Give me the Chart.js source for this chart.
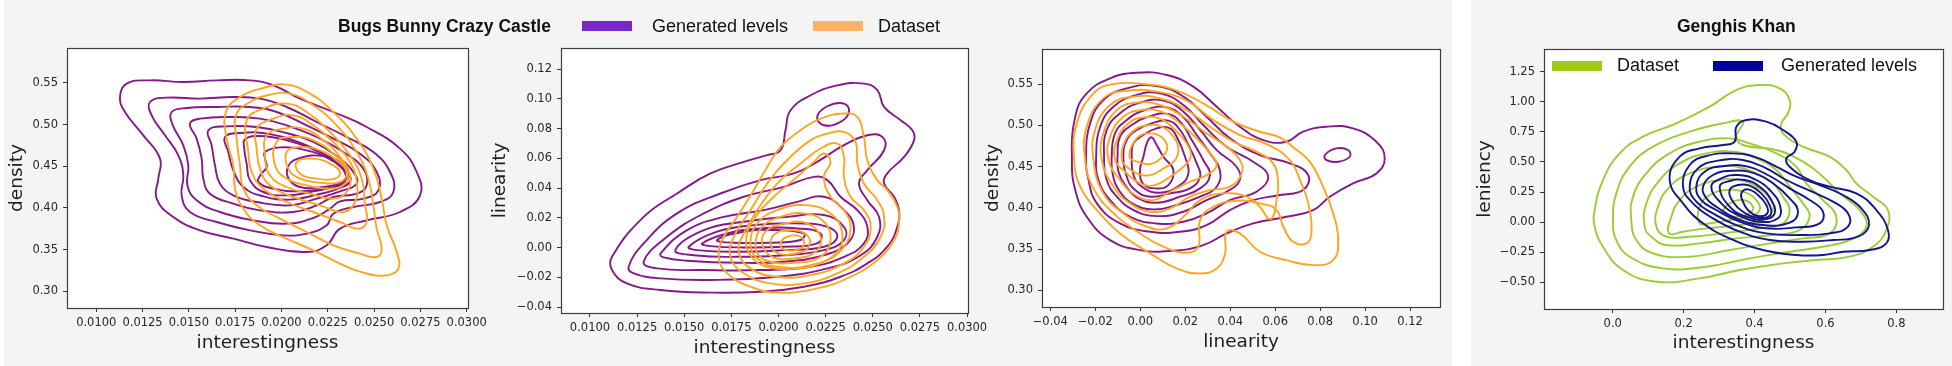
<!DOCTYPE html>
<html>
<head>
<meta charset="utf-8">
<script src="https://cdn.jsdelivr.net/npm/chart.js@4.4.0/dist/chart.umd.min.js"></script>
<style>
  body { margin: 0; width: 1952px; height: 366px; position: relative; background: #fff; overflow: hidden; }
  .bg { position: absolute; top: 0; height: 366px; background: #f4f4f4; }
  canvas { position: absolute; top: 0; }
  .txt { position: absolute; font-family: "Liberation Sans", Arial, sans-serif; font-size: 18px; line-height: 20px; color: #111; white-space: nowrap; }
  .ttl { font-weight: bold; font-size: 17.5px; }
  .sw { position: absolute; width: 50px; height: 10px; }
</style>
</head>
<body>
<div class="bg" style="left:4px;width:1448px"></div>
<div class="bg" style="left:1471px;width:481px"></div>

<canvas id="bugs1" width="500" height="366" style="left:0px"></canvas>
<canvas id="bugs2" width="510" height="366" style="left:485px"></canvas>
<canvas id="bugs3" width="485" height="366" style="left:975px"></canvas>
<canvas id="genghis" width="487" height="366" style="left:1465px"></canvas>

<div class="txt ttl" style="left:338px;top:16px">Bugs Bunny Crazy Castle</div>
<div class="sw" style="left:582px;top:21px;background:#7828c8"></div>
<div class="txt" style="left:652px;top:16px">Generated levels</div>
<div class="sw" style="left:813px;top:21px;background:#ffb266"></div>
<div class="txt" style="left:878px;top:16px">Dataset</div>

<div class="txt ttl" style="left:1677px;top:16px">Genghis Khan</div>
<div class="sw" style="left:1552px;top:61px;background:#9ccd14"></div>
<div class="txt" style="left:1617px;top:55px">Dataset</div>
<div class="sw" style="left:1713px;top:61px;background:#000096"></div>
<div class="txt" style="left:1781px;top:55px">Generated levels</div>

<script>
// tick values and labels
const interestTicks = [0.01, 0.0125, 0.015, 0.0175, 0.02, 0.0225, 0.025, 0.0275, 0.03];
const interestLabels = ["0.0100", "0.0125", "0.0150", "0.0175", "0.0200", "0.0225", "0.0250", "0.0275", "0.0300"];
const densityTicks = [0.30, 0.35, 0.40, 0.45, 0.50, 0.55];
const densityLabels = ["0.30", "0.35", "0.40", "0.45", "0.50", "0.55"];
const linearityTicks = [-0.04, -0.02, 0, 0.02, 0.04, 0.06, 0.08, 0.10, 0.12];
const linearityLabels = ["\u22120.04", "\u22120.02", "0.00", "0.02", "0.04", "0.06", "0.08", "0.10", "0.12"];
const khanInterestTicks = [0, 0.2, 0.4, 0.6, 0.8];
const khanInterestLabels = ["0.0", "0.2", "0.4", "0.6", "0.8"];
const leniencyTicks = [-0.5, -0.25, 0, 0.25, 0.5, 0.75, 1.0, 1.25];
const leniencyLabels = ["\u22120.50", "\u22120.25", "0.00", "0.25", "0.50", "0.75", "1.00", "1.25"];

// contour levels, each one a closed loop of x,y pairs
const bugsIntDenGenerated = [
  [0.01128,0.5332, 0.01164,0.5492, 0.0129,0.5532, 0.0147,0.5512, 0.0165,0.5532, 0.0183,0.5532, 0.01956,0.5472, 0.021,0.5312, 0.0228,0.5152, 0.0246,0.4972, 0.0264,0.4712, 0.0273,0.4432, 0.02748,0.4152, 0.0264,0.3952, 0.0246,0.3852, 0.02316,0.3752, 0.02244,0.3552, 0.02136,0.3472, 0.0192,0.3532, 0.0174,0.3632, 0.0156,0.3732, 0.01416,0.3892, 0.01326,0.4112, 0.01335,0.4352, 0.01344,0.4592, 0.01254,0.4872, 0.01155,0.5152],
  [0.0129,0.5272, 0.0138,0.5324, 0.0156,0.5312, 0.0174,0.5332, 0.01884,0.5312, 0.02028,0.5212, 0.0219,0.5032, 0.02352,0.4852, 0.02496,0.4672, 0.02586,0.4432, 0.02604,0.4192, 0.02532,0.4072, 0.02388,0.4012, 0.0228,0.3932, 0.02244,0.3792, 0.02136,0.3692, 0.0201,0.3672, 0.0183,0.3732, 0.0165,0.3832, 0.01506,0.3952, 0.01461,0.4152, 0.0147,0.4392, 0.01443,0.4632, 0.01371,0.4872, 0.01299,0.5112],
  [0.01407,0.5152, 0.01488,0.52, 0.0165,0.5212, 0.0183,0.5212, 0.01974,0.5152, 0.02136,0.4992, 0.0228,0.4832, 0.02424,0.4652, 0.02514,0.4432, 0.02523,0.4212, 0.02442,0.4112, 0.02316,0.408, 0.02262,0.3992, 0.02172,0.388, 0.02028,0.3812, 0.01848,0.3852, 0.01668,0.3952, 0.01542,0.4092, 0.01492,0.4272, 0.01497,0.4512, 0.0147,0.4752, 0.01412,0.5],
  [0.01506,0.5012, 0.0156,0.5072, 0.0174,0.5092, 0.01884,0.5072, 0.02028,0.4992, 0.0219,0.4852, 0.02334,0.4672, 0.02442,0.4472, 0.0246,0.4272, 0.02406,0.4172, 0.0228,0.4132, 0.0219,0.4032, 0.02064,0.3952, 0.01884,0.3972, 0.0174,0.4052, 0.01614,0.4172, 0.01578,0.4352, 0.01569,0.4592, 0.01542,0.4832],
  [0.01605,0.4932, 0.01704,0.498, 0.01866,0.4972, 0.02028,0.49, 0.02172,0.4792, 0.02298,0.4624, 0.02388,0.4432, 0.02406,0.4292, 0.02316,0.42, 0.0219,0.4112, 0.02046,0.4032, 0.01866,0.4072, 0.0174,0.4152, 0.01668,0.4292, 0.01641,0.4512, 0.01623,0.4752],
  [0.01695,0.4852, 0.01776,0.49, 0.0192,0.4892, 0.021,0.4784, 0.02226,0.4652, 0.02325,0.4492, 0.02374,0.434, 0.02316,0.424, 0.0219,0.416, 0.02046,0.41, 0.01902,0.414, 0.01794,0.4252, 0.0174,0.4452, 0.01713,0.4672],
  [0.01803,0.4824, 0.01884,0.4864, 0.02028,0.4812, 0.02172,0.4704, 0.02289,0.4552, 0.02348,0.438, 0.02302,0.4272, 0.02172,0.42, 0.02028,0.4152, 0.01902,0.4192, 0.0183,0.4332, 0.01812,0.4532, 0.01799,0.4712],
  [0.01911,0.4672, 0.01992,0.4728, 0.02136,0.4692, 0.02262,0.4584, 0.02348,0.444, 0.02348,0.4312, 0.02262,0.424, 0.021,0.42, 0.01956,0.4232, 0.01875,0.4312, 0.01888,0.44, 0.0192,0.4492, 0.01911,0.4592],
  [0.02037,0.4504, 0.021,0.46, 0.02226,0.4624, 0.0232,0.4544, 0.02361,0.4412, 0.0232,0.4304, 0.02208,0.4248, 0.021,0.4252, 0.02039,0.4352]
];
const bugsIntDenDataset = [
  [0.0170,0.5152, 0.01776,0.5332, 0.01902,0.544, 0.02028,0.548, 0.02154,0.5372, 0.0228,0.5152, 0.02406,0.4832, 0.02496,0.4472, 0.02541,0.4112, 0.02568,0.3792, 0.02622,0.3472, 0.02631,0.3272, 0.02568,0.3192, 0.02442,0.3224, 0.02316,0.3332, 0.02172,0.3492, 0.02028,0.3632, 0.01884,0.3792, 0.01794,0.3992, 0.01749,0.4232, 0.0174,0.4512, 0.01704,0.4832],
  [0.01754,0.5112, 0.0183,0.5272, 0.01938,0.536, 0.02046,0.5372, 0.02172,0.5232, 0.02298,0.4992, 0.02406,0.4672, 0.02469,0.4352, 0.02496,0.4032, 0.02514,0.3752, 0.02541,0.3512, 0.02514,0.3412, 0.02424,0.3452, 0.0228,0.3552, 0.02136,0.3712, 0.01992,0.3872, 0.01866,0.4032, 0.01794,0.4232, 0.01776,0.4512, 0.01758,0.4832],
  [0.01812,0.5052, 0.01902,0.5192, 0.02028,0.5252, 0.02136,0.5152, 0.02262,0.4912, 0.0237,0.4632, 0.02433,0.4352, 0.02451,0.4032, 0.0246,0.3832, 0.02415,0.3752, 0.02316,0.3832, 0.02172,0.3952, 0.02028,0.4072, 0.01902,0.4232, 0.01839,0.4432, 0.01821,0.4672],
  [0.01866,0.4952, 0.01956,0.5072, 0.02064,0.5112, 0.02172,0.4992, 0.0228,0.4792, 0.0237,0.4552, 0.02406,0.4312, 0.02397,0.4072, 0.02334,0.3952, 0.02208,0.4032, 0.02064,0.4132, 0.01938,0.4272, 0.01884,0.4472, 0.01866,0.4712],
  [0.0192,0.4872, 0.0201,0.4952, 0.02118,0.4952, 0.02226,0.4812, 0.02316,0.4612, 0.0237,0.4392, 0.02352,0.4192, 0.0228,0.4112, 0.02154,0.4172, 0.02028,0.4252, 0.01938,0.4392, 0.01911,0.4632],
  [0.01974,0.4792, 0.02064,0.4852, 0.02172,0.4812, 0.0228,0.4652, 0.02352,0.4452, 0.02343,0.4292, 0.02262,0.4232, 0.02136,0.4272, 0.02028,0.4352, 0.01965,0.4512],
  [0.02028,0.4672, 0.021,0.4732, 0.02208,0.4692, 0.02298,0.4572, 0.02352,0.4432, 0.02316,0.4312, 0.02208,0.4304, 0.021,0.4352, 0.02037,0.4472],
  [0.02082,0.4552, 0.02172,0.4592, 0.02262,0.4532, 0.02316,0.4432, 0.02289,0.4352, 0.0219,0.4352, 0.021,0.4412]
];

const bugsIntLinGenerated = [
  [0.01117,-0.0062, 0.01285,0.0207, 0.01462,0.0364, 0.01639,0.0499, 0.01816,0.0577, 0.0194,0.0622, 0.02011,0.0655, 0.02037,0.079, 0.02064,0.0924, 0.0217,0.1025, 0.02312,0.1092, 0.02453,0.1103, 0.02524,0.1059, 0.0256,0.0947, 0.02648,0.0857, 0.0271,0.079, 0.02719,0.0723, 0.02666,0.0611, 0.02577,0.0499, 0.0256,0.0431, 0.02613,0.0342, 0.02639,0.0252, 0.0263,0.014, 0.02577,0.0006, 0.02471,-0.0106, 0.02329,-0.0196, 0.02135,-0.0263, 0.01905,-0.0297, 0.01639,-0.0303, 0.01374,-0.0285, 0.01196,-0.0241, 0.01117,-0.0151],
  [0.01205,-0.0129, 0.01285,0.0028, 0.01462,0.023, 0.01692,0.0364, 0.01905,0.0454, 0.02082,0.0499, 0.02205,0.0577, 0.02347,0.0689, 0.02471,0.0756, 0.02551,0.0745, 0.0256,0.0655, 0.02471,0.0521, 0.02427,0.0431, 0.02471,0.0319, 0.02533,0.0207, 0.02524,0.0073, 0.02436,-0.0051, 0.02259,-0.014, 0.01993,-0.0196, 0.01639,-0.0218, 0.01374,-0.0207, 0.01232,-0.0173],
  [0.01285,-0.0095, 0.01409,0.0073, 0.01604,0.023, 0.01816,0.0342, 0.02028,0.0409, 0.02188,0.0476, 0.02259,0.0454, 0.02329,0.0342, 0.02418,0.0252, 0.02471,0.014, 0.02453,0.0028, 0.02347,-0.0062, 0.0217,-0.0129, 0.01905,-0.0151, 0.01604,-0.0151, 0.01356,-0.014],
  [0.01374,-0.004, 0.01515,0.0118, 0.0171,0.0207, 0.01922,0.0252, 0.02099,0.0308, 0.02241,0.0342, 0.02347,0.0252, 0.024,0.014, 0.02365,0.0028, 0.02241,-0.0051, 0.02028,-0.0095, 0.01781,-0.0102, 0.01515,-0.0088, 0.01391,-0.0066],
  [0.01453,-0.0017, 0.01604,0.0118, 0.01816,0.0174, 0.02046,0.0207, 0.02241,0.0219, 0.02347,0.014, 0.02347,0.0051, 0.02241,-0.0017, 0.02028,-0.0051, 0.01781,-0.0062, 0.01551,-0.0051],
  [0.01524,0.0006, 0.01674,0.0107, 0.01869,0.0151, 0.02082,0.0163, 0.02259,0.014, 0.02312,0.0073, 0.02241,0.0006, 0.02028,-0.0017, 0.01781,-0.0028, 0.01568,-0.0017],
  [0.01595,0.0028, 0.01728,0.0095, 0.01905,0.0129, 0.02099,0.0129, 0.02223,0.0095, 0.02205,0.0028, 0.02028,0.0006, 0.01816,0.0001, 0.01639,0.001],
  [0.01674,0.0051, 0.01816,0.0107, 0.01993,0.0118, 0.02135,0.0095, 0.02117,0.0051, 0.01958,0.0033, 0.01763,0.0033],
  [0.02205,0.0879, 0.02259,0.0951, 0.02347,0.0969, 0.02374,0.0913, 0.02329,0.0846, 0.02241,0.0823]
];
const bugsIntLinDataset = [
  [0.02117,0.079, 0.02223,0.0868, 0.02347,0.0902, 0.02418,0.0879, 0.02453,0.0745, 0.02471,0.0588, 0.02524,0.0454, 0.02577,0.0387, 0.0263,0.0275, 0.02639,0.0163, 0.02613,0.0051, 0.02524,-0.0084, 0.02382,-0.0196, 0.02205,-0.0274, 0.01993,-0.0303, 0.01851,-0.0263, 0.01728,-0.0173, 0.01683,-0.0062, 0.0171,0.0073, 0.01781,0.0207, 0.01869,0.0387, 0.0194,0.0543, 0.02011,0.0678],
  [0.0217,0.0723, 0.02259,0.0767, 0.02347,0.0779, 0.02409,0.0711, 0.02418,0.0566, 0.02453,0.0431, 0.02524,0.0319, 0.0256,0.0207, 0.02542,0.0073, 0.02453,-0.0062, 0.02312,-0.0173, 0.02135,-0.0241, 0.01958,-0.0241, 0.01816,-0.0173, 0.01745,-0.0062, 0.01763,0.0073, 0.01851,0.0252, 0.0194,0.0431, 0.02028,0.0566],
  [0.02117,0.0566, 0.02223,0.0667, 0.02312,0.07, 0.02347,0.0611, 0.02347,0.0476, 0.02382,0.0342, 0.02453,0.0252, 0.02489,0.014, 0.02453,0.0006, 0.02347,-0.0106, 0.0217,-0.0185, 0.01993,-0.0196, 0.01851,-0.014, 0.01789,-0.0028, 0.01816,0.0095, 0.01887,0.0252, 0.01993,0.0431],
  [0.02188,0.0577, 0.02241,0.0633, 0.02276,0.0577, 0.02241,0.0476, 0.02276,0.0342, 0.02347,0.0252, 0.02382,0.014, 0.02347,0.0006, 0.02241,-0.0095, 0.02099,-0.014, 0.0194,-0.0129, 0.01851,-0.0051, 0.0183,0.0073, 0.01878,0.0207, 0.01975,0.0342, 0.02099,0.0476],
  [0.01851,0.0028, 0.01887,0.0163, 0.01993,0.0252, 0.02135,0.0286, 0.02276,0.023, 0.02338,0.0095, 0.02303,-0.004, 0.0217,-0.0118, 0.01993,-0.0129, 0.01887,-0.0073],
  [0.01878,0.0028, 0.01913,0.014, 0.02011,0.0207, 0.02135,0.023, 0.02241,0.0174, 0.02276,0.0051, 0.02223,-0.0062, 0.02082,-0.0102, 0.01958,-0.0095, 0.01896,-0.0051],
  [0.01913,0.0028, 0.0194,0.0118, 0.02037,0.0163, 0.02152,0.0163, 0.02223,0.0073, 0.02197,-0.0028, 0.02082,-0.0073, 0.01967,-0.0062],
  [0.01958,0.0028, 0.01984,0.0095, 0.02064,0.0118, 0.02152,0.0084, 0.02161,0.0006, 0.0209,-0.004, 0.01993,-0.0035],
  [0.02011,0.0028, 0.02046,0.0073, 0.02117,0.0073, 0.02135,0.0017, 0.0209,-0.0017, 0.02028,-0.0012]
];

const bugsLinDenGenerated = [
  [-0.0304,0.4579, -0.0289,0.5104, -0.0238,0.5387, -0.0134,0.5569, -0.0016,0.5637, 0.0118,0.5609, 0.0236,0.5468, 0.0340,0.5225, 0.0443,0.4983, 0.0547,0.4821, 0.0650,0.4801, 0.0724,0.4922, 0.0828,0.4983, 0.0946,0.4963, 0.1050,0.4801, 0.1087,0.4599, 0.1050,0.4417, 0.0946,0.4296, 0.0843,0.4135, 0.0769,0.3973, 0.0650,0.3892, 0.0502,0.3811, 0.0384,0.3690, 0.0280,0.3549, 0.0147,0.3480, -0.0001,0.3488, -0.0134,0.3609, -0.0238,0.3892, -0.0289,0.4215],
  [-0.0241,0.4619, -0.0223,0.5023, -0.0164,0.5306, -0.0060,0.5448, 0.0073,0.5476, 0.0192,0.5347, 0.0295,0.5104, 0.0399,0.4842, 0.0532,0.4640, 0.0665,0.4539, 0.0747,0.4397, 0.0724,0.4215, 0.0621,0.4155, 0.0502,0.4094, 0.0399,0.3973, 0.0295,0.3791, 0.0177,0.3710, 0.0044,0.3710, -0.0090,0.3811, -0.0193,0.4054, -0.0230,0.4337],
  [-0.0196,0.4619, -0.0178,0.4983, -0.0119,0.5225, -0.0016,0.5367, 0.0088,0.5387, 0.0192,0.5246, 0.0280,0.5003, 0.0384,0.4741, 0.0502,0.4559, 0.0569,0.4377, 0.0517,0.4195, 0.0399,0.4094, 0.0295,0.3933, 0.0192,0.3832, 0.0073,0.3811, -0.0045,0.3892, -0.0134,0.4094, -0.0186,0.4337],
  [-0.0161,0.4619, -0.0149,0.4943, -0.0090,0.5145, -0.0001,0.5274, 0.0103,0.5298, 0.0192,0.5165, 0.0266,0.4943, 0.0340,0.4700, 0.0428,0.4498, 0.0443,0.4337, 0.0384,0.4195, 0.0295,0.4094, 0.0192,0.3953, 0.0073,0.3900, -0.0030,0.3973, -0.0104,0.4135, -0.0149,0.4337],
  [-0.0127,0.4619, -0.0112,0.4902, -0.0060,0.5064, 0.0021,0.5185, 0.0118,0.5217, 0.0192,0.5096, 0.0251,0.4882, 0.0310,0.4660, 0.0354,0.4458, 0.0340,0.4256, 0.0266,0.4135, 0.0162,0.4034, 0.0058,0.3981, -0.0030,0.4046, -0.0090,0.4195, -0.0122,0.4397],
  [-0.0101,0.4619, -0.0090,0.4862, -0.0038,0.5003, 0.0036,0.5104, 0.0125,0.5137, 0.0184,0.5023, 0.0229,0.4821, 0.0280,0.4579, 0.0310,0.4397, 0.0266,0.4236, 0.0177,0.4135, 0.0073,0.4062, -0.0016,0.4127, -0.0067,0.4276, -0.0097,0.4438],
  [-0.0075,0.4619, -0.0060,0.4821, -0.0016,0.4943, 0.0051,0.5023, 0.0125,0.5056, 0.0177,0.4943, 0.0214,0.4761, 0.0251,0.4539, 0.0266,0.4377, 0.0221,0.4236, 0.0132,0.4175, 0.0044,0.4135, -0.0023,0.4215, -0.0060,0.4377],
  [-0.0038,0.4619, -0.0030,0.4781, 0.0014,0.4882, 0.0073,0.4963, 0.0132,0.4963, 0.0169,0.4821, 0.0199,0.4619, 0.0214,0.4417, 0.0177,0.4276, 0.0088,0.4183, 0.0007,0.4256, -0.0030,0.4397],
  [-0.0001,0.4458, 0.0014,0.4619, 0.0032,0.4801, 0.0051,0.4854, 0.0073,0.4761, 0.0103,0.4619, 0.0147,0.4458, 0.0125,0.4276, 0.0066,0.4236, 0.0014,0.4288],
  [0.0821,0.4640, 0.0872,0.4720, 0.0924,0.4700, 0.0932,0.4619, 0.0880,0.4559, 0.0828,0.4579]
];
const bugsLinDenDataset = [
  [-0.0294,0.4579, -0.0282,0.5023, -0.0208,0.5387, -0.0119,0.5500, 0.0014,0.5500, 0.0147,0.5435, 0.0280,0.5266, 0.0414,0.5044, 0.0532,0.4922, 0.0621,0.4854, 0.0680,0.4733, 0.0754,0.4559, 0.0813,0.4256, 0.0858,0.3933, 0.0880,0.3609, 0.0858,0.3367, 0.0769,0.3306, 0.0650,0.3367, 0.0532,0.3468, 0.0443,0.3690, 0.0384,0.3710, 0.0377,0.3448, 0.0340,0.3266, 0.0266,0.3205, 0.0162,0.3266, 0.0044,0.3448, -0.0090,0.3690, -0.0193,0.3973, -0.0267,0.4256],
  [-0.0245,0.4579, -0.0238,0.4983, -0.0164,0.5326, -0.0060,0.5419, 0.0073,0.5407, 0.0206,0.5298, 0.0325,0.5064, 0.0443,0.4882, 0.0562,0.4773, 0.0665,0.4579, 0.0710,0.4337, 0.0747,0.4054, 0.0761,0.3690, 0.0739,0.3569, 0.0680,0.3589, 0.0636,0.3771, 0.0606,0.3973, 0.0532,0.4054, 0.0428,0.4086, 0.0325,0.4013, 0.0266,0.3852, 0.0258,0.3529, 0.0206,0.3456, 0.0103,0.3529, -0.0001,0.3690, -0.0119,0.3933, -0.0208,0.4236],
  [-0.0208,0.4579, -0.0201,0.4943, -0.0134,0.5246, -0.0030,0.5347, 0.0088,0.5326, 0.0206,0.5185, 0.0310,0.4983, 0.0414,0.4801, 0.0517,0.4680, 0.0591,0.4539, 0.0613,0.4296, 0.0606,0.4094, 0.0591,0.3892, 0.0569,0.3872, 0.0532,0.4013, 0.0473,0.4135, 0.0369,0.4175, 0.0266,0.4094, 0.0192,0.3892, 0.0118,0.3751, 0.0029,0.3771, -0.0075,0.3933, -0.0164,0.4175],
  [-0.0171,0.4579, -0.0164,0.4902, -0.0104,0.5185, -0.0016,0.5274, 0.0088,0.5246, 0.0192,0.5104, 0.0295,0.4902, 0.0384,0.4741, 0.0443,0.4579, 0.0451,0.4417, 0.0399,0.4256, 0.0310,0.4215, 0.0221,0.4135, 0.0132,0.3993, 0.0044,0.3953, -0.0045,0.4054, -0.0119,0.4256],
  [-0.0141,0.4579, -0.0134,0.4862, -0.0075,0.5104, 0.0007,0.5185, 0.0095,0.5165, 0.0177,0.5023, 0.0251,0.4842, 0.0310,0.4660, 0.0340,0.4518, 0.0295,0.4397, 0.0221,0.4316, 0.0132,0.4195, 0.0058,0.4094, -0.0023,0.4155, -0.0090,0.4337],
  [-0.0112,0.4579, -0.0104,0.4821, -0.0053,0.5023, 0.0014,0.5096, 0.0095,0.5072, 0.0155,0.4943, 0.0206,0.4781, 0.0224,0.4619, 0.0192,0.4498, 0.0132,0.4377, 0.0066,0.4276, -0.0001,0.4296, -0.0067,0.4438],
  [-0.0082,0.4579, -0.0072,0.4781, -0.0030,0.4935, 0.0029,0.4999, 0.0095,0.4983, 0.0147,0.4862, 0.0169,0.4720, 0.0155,0.4579, 0.0103,0.4478, 0.0044,0.4397, -0.0016,0.4417, -0.0060,0.4498],
  [-0.0048,0.4619, -0.0016,0.4842, 0.0044,0.4902, 0.0095,0.4854, 0.0120,0.4733, 0.0095,0.4611, 0.0044,0.4531, -0.0008,0.4555]
];

const khanIntLenDataset = [
  [-0.0509,0.1006, -0.0274,0.3499, 0.0196,0.5715, 0.0854,0.71, 0.1794,0.8208, 0.2734,0.9593, 0.3486,1.0978, 0.4144,1.1394, 0.4708,1.1117, 0.499,1.0147, 0.4943,0.9039, 0.4755,0.8208, 0.4802,0.7377, 0.5366,0.6269, 0.6118,0.5438, 0.6588,0.433, 0.687,0.3222, 0.734,0.2114, 0.7763,0.1006, 0.7716,-0.0656, 0.734,-0.2041, 0.6682,-0.2872, 0.5742,-0.3149, 0.4802,-0.3426, 0.358,-0.398, 0.2452,-0.4673, 0.123,-0.4949, 0.029,-0.398, -0.0274,-0.2041, -0.0509,-0.0379],
  [0.0008,0.0175, 0.0102,0.2391, 0.0478,0.4607, 0.1136,0.6269, 0.217,0.7516, 0.311,0.8208, 0.3674,0.8347, 0.3486,0.71, 0.3674,0.6408, 0.4614,0.5992, 0.5366,0.5023, 0.593,0.3776, 0.64,0.2391, 0.6964,0.1006, 0.7152,-0.0379, 0.6682,-0.1487, 0.593,-0.2041, 0.499,-0.2457, 0.3862,-0.3011, 0.264,-0.3703, 0.1418,-0.3842, 0.0478,-0.2872, 0.0102,-0.1487],
  [0.0525,0.0175, 0.0572,0.2114, 0.0948,0.4053, 0.1606,0.5715, 0.2452,0.6685, 0.3298,0.6962, 0.3862,0.6546, 0.4614,0.5715, 0.5178,0.4607, 0.546,0.3222, 0.593,0.1837, 0.6306,0.0452, 0.6118,-0.0933, 0.5366,-0.1349, 0.4426,-0.1764, 0.3298,-0.2318, 0.217,-0.2872, 0.1136,-0.2595, 0.0666,-0.1487],
  [0.0901,-0.0379, 0.0948,0.156, 0.1324,0.3499, 0.1888,0.4884, 0.264,0.5715, 0.3392,0.5854, 0.405,0.53, 0.4614,0.433, 0.499,0.2945, 0.5366,0.156, 0.5554,0.0452, 0.5272,-0.0656, 0.452,-0.1072, 0.3486,-0.1349, 0.2452,-0.1764, 0.1512,-0.1903, 0.1089,-0.121],
  [0.123,-0.0379, 0.1277,0.1283, 0.1606,0.2945, 0.217,0.4053, 0.2922,0.4607, 0.3486,0.4607, 0.405,0.4053, 0.452,0.3222, 0.4802,0.2114, 0.499,0.1006, 0.4802,-0.0102, 0.4144,-0.0518, 0.311,-0.0933, 0.217,-0.121, 0.1512,-0.121],
  [0.1587,-0.0933, 0.1653,0.0452, 0.1888,0.1837, 0.2358,0.2945, 0.3016,0.3499, 0.358,0.3499, 0.405,0.2945, 0.4426,0.1976, 0.452,0.1006, 0.4238,0.0175, 0.358,-0.0241, 0.264,-0.0518, 0.1982,-0.0795],
  [0.2452,-0.0102, 0.2452,0.1283, 0.2734,0.2253, 0.3204,0.2668, 0.3674,0.253, 0.405,0.1837, 0.4144,0.1006, 0.3862,0.0452, 0.3298,0.0175, 0.2828,-0.0047],
  [0.311,0.0729, 0.3298,0.156, 0.3674,0.1837, 0.3956,0.1283, 0.3862,0.0729, 0.3486,0.0452]
];
const khanIntLenGenerated = [
  [0.1606,0.3499, 0.1888,0.5438, 0.2452,0.6131, 0.311,0.6408, 0.3439,0.6685, 0.3486,0.7931, 0.3768,0.8485, 0.4332,0.8347, 0.4802,0.7654, 0.5178,0.6685, 0.5131,0.5854, 0.4896,0.53, 0.499,0.4607, 0.5554,0.3499, 0.6118,0.2945, 0.687,0.2391, 0.7434,0.1006, 0.7763,-0.0656, 0.7716,-0.1764, 0.7246,-0.2318, 0.6494,-0.2457, 0.593,-0.2734, 0.5178,-0.2734, 0.4238,-0.2318, 0.3298,-0.1349, 0.2546,-0.0102, 0.1982,0.156],
  [0.1982,0.2945, 0.217,0.4746, 0.264,0.5493, 0.3392,0.5715, 0.405,0.5383, 0.4614,0.4607, 0.5178,0.3776, 0.5836,0.3084, 0.6494,0.2253, 0.7011,0.1144, 0.7227,-0.0241, 0.6917,-0.121, 0.6212,-0.1487, 0.5366,-0.1626, 0.4426,-0.1487, 0.358,-0.0795, 0.2828,0.0314, 0.2264,0.156],
  [0.217,0.2945, 0.2405,0.4469, 0.2969,0.5106, 0.3674,0.5161, 0.4332,0.4469, 0.4896,0.3499, 0.5554,0.2613, 0.6212,0.1699, 0.6635,0.0729, 0.6635,-0.0379, 0.6118,-0.0933, 0.5272,-0.1072, 0.4332,-0.0933, 0.3486,-0.0241, 0.2828,0.0729, 0.2358,0.1699],
  [0.2358,0.2945, 0.2593,0.4191, 0.3157,0.4662, 0.3815,0.4607, 0.4426,0.3831, 0.499,0.2807, 0.5554,0.1837, 0.593,0.0868, 0.5836,-0.0102, 0.5178,-0.0434, 0.4332,-0.0518, 0.358,0.0036, 0.2922,0.1006, 0.2499,0.1837],
  [0.2546,0.2945, 0.2828,0.3915, 0.3392,0.4275, 0.4003,0.4053, 0.452,0.3222, 0.499,0.1976, 0.5225,0.0868, 0.499,-0.0047, 0.4238,-0.0241, 0.3486,0.0314, 0.2922,0.1283, 0.264,0.1976],
  [0.2781,0.2945, 0.3063,0.3638, 0.3533,0.3915, 0.405,0.3499, 0.4473,0.253, 0.4727,0.1283, 0.4661,0.0314, 0.4144,0.0036, 0.3533,0.059, 0.3063,0.156],
  [0.3016,0.2945, 0.3298,0.3416, 0.3721,0.3499, 0.4144,0.2945, 0.4473,0.1837, 0.4567,0.0729, 0.4285,0.023, 0.3768,0.0452, 0.3298,0.1283],
  [0.3298,0.2668, 0.3533,0.3084, 0.3862,0.3028, 0.4191,0.2391, 0.4426,0.1422, 0.4445,0.059, 0.4097,0.0369, 0.3674,0.0868, 0.3392,0.1699],
  [0.3627,0.2391, 0.3815,0.2723, 0.4097,0.2253, 0.4332,0.1422, 0.436,0.0729, 0.4097,0.0507, 0.3815,0.1006, 0.3674,0.1699]
];

// closes each loop: the wrap-around points give a smooth join, the two extra segments stay hidden
function loop(flat) {
  const pts = [];
  for (let i = 0; i < flat.length; i += 2) pts.push({x: flat[i], y: flat[i + 1]});
  return [pts[pts.length - 1], ...pts, pts[0], pts[1]];
}

function contours(levels, color) {
  return levels.map(flat => {
    const data = loop(flat);
    const last = data.length - 2;
    return {
      data,
      borderColor: color,
      borderWidth: 1.9,
      borderCapStyle: 'round',
      borderJoinStyle: 'round',
      pointRadius: 0,
      tension: 0.45,
      fill: false,
      segment: {
        borderColor: c => (c.p0DataIndex === 0 || c.p0DataIndex === last) ? 'rgba(0,0,0,0)' : color
      }
    };
  });
}

function makeScale(min, max, values, labels, title, horizontal, size, titlePad) {
  return {
    type: 'linear',
    min: min,
    max: max,
    afterBuildTicks: s => { s.ticks = values.map(v => ({value: v})); },
    afterFit: s => {
      if (horizontal) s.height = size; else s.width = size;
      s.paddingLeft = 0; s.paddingRight = 0; s.paddingTop = 0; s.paddingBottom = 0;
    },
    grid: {drawOnChartArea: false, tickLength: 4, color: '#333', lineWidth: 1},
    border: {display: false},
    ticks: {
      autoSkip: false,
      maxRotation: 0,
      padding: horizontal ? 4 : 5,
      color: '#262626',
      font: {family: 'DejaVu Sans', size: 11.5},
      callback: (v, i) => labels[i]
    },
    title: {
      display: true,
      text: title,
      color: '#1e1e1e',
      font: {family: 'DejaVu Sans', size: 18.5, lineHeight: 1},
      padding: horizontal ? {top: 0, bottom: titlePad} : {top: titlePad, bottom: 0}
    }
  };
}

// white plot area and dark frame
const frame = {
  id: 'frame',
  beforeDraw(chart) {
    const {ctx, chartArea: a} = chart;
    ctx.save();
    ctx.fillStyle = '#fff';
    ctx.fillRect(a.left, a.top, a.right - a.left, a.bottom - a.top);
    ctx.restore();
  },
  afterDraw(chart) {
    const {ctx, chartArea: a} = chart;
    ctx.save();
    ctx.strokeStyle = '#3c3c3c';
    ctx.lineWidth = 1.2;
    ctx.strokeRect(Math.round(a.left) + 0.5, Math.round(a.top) + 0.5, Math.round(a.right - a.left), Math.round(a.bottom - a.top));
    ctx.restore();
  }
};

function panel(id, xScale, yScale, datasets, padRight, padTop) {
  new Chart(document.getElementById(id), {
    type: 'line',
    data: {datasets: datasets},
    options: {
      responsive: false,
      animation: false,
      events: [],
      layout: {padding: {left: 0, right: padRight, top: padTop, bottom: 0}},
      plugins: {legend: {display: false}, tooltip: {enabled: false}},
      scales: {x: xScale, y: yScale}
    },
    plugins: [frame]
  });
}

const purple = '#85198a';
const orange = '#ffa51f';
const green = '#9acd32';
const navy = '#14148c';

panel('bugs1',
  makeScale(0.00842, 0.03007, interestTicks, interestLabels, 'interestingness', true, 58, 14),
  makeScale(0.280, 0.592, densityTicks, densityLabels, 'density', false, 67, 8),
  [...contours(bugsIntDenDataset, orange), ...contours(bugsIntDenGenerated, purple)],
  32, 48);

panel('bugs2',
  makeScale(0.008464, 0.03005, interestTicks, interestLabels, 'interestingness', true, 53, 9),
  makeScale(-0.0440, 0.1343, linearityTicks, linearityLabels, 'linearity', false, 76, 6),
  [...contours(bugsIntLinDataset, orange), ...contours(bugsIntLinGenerated, purple)],
  27, 48);

panel('bugs3',
  makeScale(-0.0437, 0.1333, linearityTicks, linearityLabels, 'linearity', true, 59, 15),
  makeScale(0.2799, 0.5924, densityTicks, densityLabels, 'density', false, 67, 9),
  [...contours(bugsLinDenDataset, orange), ...contours(bugsLinDenGenerated, purple)],
  20, 49);

panel('genghis',
  makeScale(-0.1938, 0.9315, khanInterestTicks, khanInterestLabels, 'interestingness', true, 57, 14),
  makeScale(-0.7218, 1.4385, leniencyTicks, leniencyLabels, 'leniency', false, 79, 11),
  [...contours(khanIntLenGenerated, navy), ...contours(khanIntLenDataset, green)],
  9, 49);
</script>
</body>
</html>
